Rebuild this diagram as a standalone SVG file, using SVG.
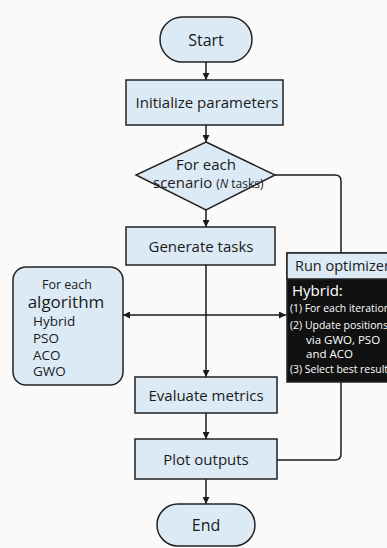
<svg xmlns="http://www.w3.org/2000/svg" width="387" height="548" viewBox="0 0 387 548">
<defs>
<marker id="ah" viewBox="0 0 10 10" refX="10" refY="5" markerWidth="7" markerHeight="7" orient="auto-start-reverse" markerUnits="userSpaceOnUse">
<path d="M0,0 L10,5 L0,10 z" fill="#1a1a1a"/>
</marker>
<style>
text{font-family:"Open Sans","Noto Sans",sans-serif;fill:#1a1a1a}
.box{fill:#dceaf6;stroke:#222;stroke-width:1.5}
.c{text-anchor:middle}
.ln{fill:none;stroke:#1a1a1a;stroke-width:1.5}
.w{fill:#fff}
.s{font-size:11.5px}
</style>
</defs>
<rect x="0" y="0" width="387" height="548" fill="#fafafa"/>
<g id="connectors">
<line class="ln" x1="206" y1="62" x2="206" y2="80" marker-end="url(#ah)"/>
<line class="ln" x1="206" y1="125" x2="206" y2="142" marker-end="url(#ah)"/>
<line class="ln" x1="206" y1="210" x2="206" y2="227" marker-end="url(#ah)"/>
<line class="ln" x1="206" y1="265" x2="206" y2="377" marker-end="url(#ah)"/>
<line class="ln" x1="206" y1="413" x2="206" y2="439" marker-end="url(#ah)"/>
<line class="ln" x1="206" y1="479" x2="206" y2="504" marker-end="url(#ah)"/>
<line class="ln" x1="123" y1="315" x2="286" y2="315" marker-start="url(#ah)" marker-end="url(#ah)"/>
<path class="ln" d="M275,175 H335 Q341,175 341,181 V253"/>
<path class="ln" d="M341,382 V454 Q341,460 335,460 H277"/>
</g>
<g id="start">
<rect class="box" x="160" y="17" width="92" height="45" rx="22.5"/>
<text class="c" x="206" y="46" font-size="16">Start</text>
</g>
<g id="init">
<rect class="box" x="126" y="80" width="157" height="45"/>
<text class="c" x="207" y="108" font-size="15">Initialize parameters</text>
</g>
<g id="scenario">
<polygon class="box" points="206,142 275,175 206,210 136,175"/>
<text class="c" x="206" y="170" font-size="15">For each</text>
<text x="153" y="188" font-size="15">scenario <tspan font-size="12">(<tspan font-style="italic">N</tspan> tasks)</tspan></text>
</g>
<g id="generate">
<rect class="box" x="126" y="227" width="149" height="38"/>
<text class="c" x="201" y="252" font-size="15">Generate tasks</text>
</g>
<g id="algorithm">
<rect class="box" x="13" y="267" width="110" height="118" rx="13"/>
<text class="c" x="67" y="289" font-size="12.5">For each</text>
<text class="c" x="66" y="308" font-size="17">algorithm</text>
<text x="33" y="326" font-size="13.5">Hybrid</text>
<text x="33" y="343" font-size="13.5">PSO</text>
<text x="33" y="360" font-size="13.5">ACO</text>
<text x="33" y="376" font-size="13.5">GWO</text>
</g>
<g id="optimizer">
<rect x="287" y="253" width="110" height="129" fill="#111" stroke="#222" stroke-width="1.5"/>
<rect class="box" x="287" y="253" width="110" height="26"/>
<text x="295" y="271" font-size="14.5">Run optimizer</text>
<text class="w" x="292" y="296" font-size="15">Hybrid:</text>
<text class="w s" x="290" y="312" textLength="100" lengthAdjust="spacingAndGlyphs">(1) For each iteration</text>
<text class="w s" x="290" y="329" textLength="98" lengthAdjust="spacingAndGlyphs">(2) Update positions</text>
<text class="w s" x="306" y="344">via GWO, PSO</text>
<text class="w s" x="306" y="358">and ACO</text>
<text class="w s" x="290" y="373" textLength="98" lengthAdjust="spacingAndGlyphs">(3) Select best result</text>
</g>
<g id="evaluate">
<rect class="box" x="135" y="377" width="142" height="36"/>
<text class="c" x="206" y="401" font-size="15">Evaluate metrics</text>
</g>
<g id="plot">
<rect class="box" x="135" y="439" width="142" height="40"/>
<text class="c" x="206" y="465" font-size="15">Plot outputs</text>
</g>
<g id="end">
<rect class="box" x="157" y="504" width="98" height="42" rx="21"/>
<text class="c" x="206" y="531" font-size="16">End</text>
</g>
</svg>
